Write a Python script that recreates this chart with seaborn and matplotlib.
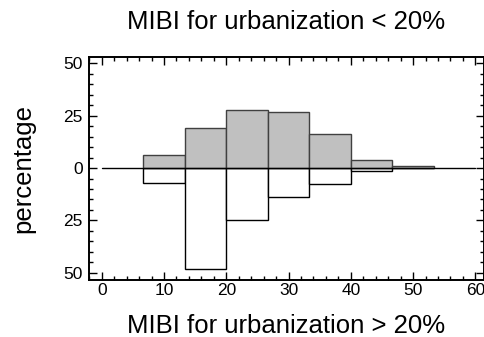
import numpy as np
import pandas as pd
import matplotlib
matplotlib.use("Agg")
import matplotlib.pyplot as plt
from matplotlib.ticker import MultipleLocator, FuncFormatter
import seaborn as sns

# MIBI class edges and the share of sites (%) falling in each class
bin_edges = [20/3, 40/3, 20, 80/3, 100/3, 40, 140/3, 160/3]
low_urban_pct = [6.2, 18.9, 27.7, 26.6, 16.5, 3.8, 1.1]     # urbanization < 20%
high_urban_pct = [7.0, 48.1, 24.9, 13.7, 7.5, 1.6, 0.0]     # urbanization > 20%

sns.set_theme(style="white")
plt.rcParams["font.family"] = ["Liberation Sans", "DejaVu Sans"]
plt.rcParams["text.color"] = "black"
plt.rcParams["axes.labelcolor"] = "black"
plt.rcParams["xtick.color"] = "black"
plt.rcParams["ytick.color"] = "black"

centers = [(a + b) / 2 for a, b in zip(bin_edges[:-1], bin_edges[1:])]
df = pd.DataFrame({"mibi": centers, "low": low_urban_pct,
                   "high": [-v for v in high_urban_pct]})

fig = plt.figure(figsize=(4.84, 3.37), dpi=100)
ax = fig.add_axes([89 / 484, 1 - 280 / 337, (483.5 - 89) / 484, (280 - 56.7) / 337])

sns.histplot(data=df, x="mibi", weights="high", bins=bin_edges, ax=ax,
             color="white", edgecolor="black", linewidth=1.0, alpha=1)
sns.histplot(data=df, x="mibi", weights="low", bins=bin_edges, ax=ax,
             color="#c0c0c0", edgecolor="#404040", linewidth=1.0, alpha=1)
ax.plot([0, 60], [0, 0], color="black", lw=1.0, zorder=5)

ax.set_xlim(-2.04, 61.3)
ax.set_ylim(-53.5, 53.2)
ax.xaxis.set_major_locator(MultipleLocator(10))
ax.xaxis.set_minor_locator(MultipleLocator(2))
ax.yaxis.set_major_locator(MultipleLocator(25))
ax.yaxis.set_minor_locator(MultipleLocator(5))
ax.yaxis.set_major_formatter(FuncFormatter(lambda v, p: f"{abs(v):.0f}"))
ax.tick_params(which="both", direction="in", top=True, right=True,
               bottom=True, left=True, labelsize=12.5, width=1.0)
ax.tick_params(axis="y", pad=4.5)
ax.tick_params(axis="x", pad=2)
ax.tick_params(which="major", length=5.8)
ax.tick_params(which="minor", length=2.9)
for s in ax.spines.values():
    s.set_color("black")
    s.set_linewidth(1.4)

ax.set_title("MIBI for urbanization < 20%", fontsize=18.5, pad=20)
ax.set_xlabel("MIBI for urbanization > 20%", fontsize=18.5, labelpad=12)
ax.set_ylabel("percentage", fontsize=18.5, labelpad=20)

fig.savefig("out.png", dpi=100)
